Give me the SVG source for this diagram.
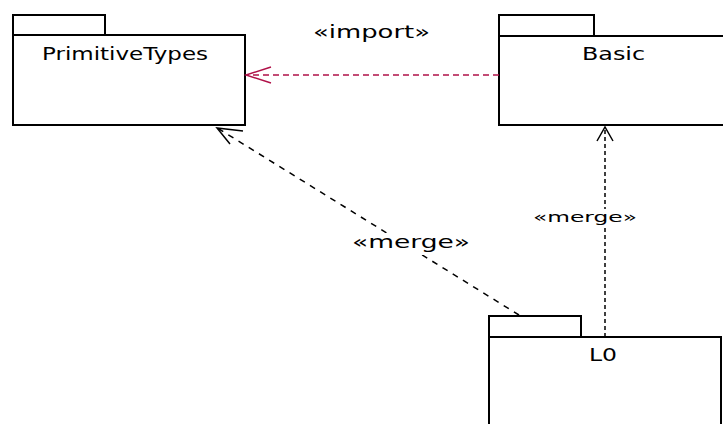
<svg xmlns="http://www.w3.org/2000/svg" width="723" height="424" viewBox="0 0 723 424">
<style>
.pkg{fill:#fff;stroke:#000;stroke-width:2}
.name{font-family:"DejaVu Sans","Liberation Sans",sans-serif;font-size:18px;fill:#000}
.lbl{font-family:"DejaVu Sans","Liberation Sans",sans-serif;font-size:18px;fill:#000}
.imp{stroke:#b01048;stroke-width:1.5;fill:none}
.mrg{stroke:#000;stroke-width:1.5;fill:none}
.bg{fill:#fff}
</style>
<rect width="723" height="424" fill="#fff"/>
<g id="PrimitiveTypes">
<rect class="pkg" x="13" y="15" width="92" height="20"/>
<rect class="pkg" x="13" y="35" width="232" height="90"/>
<text class="name" x="42" y="60" textLength="166" lengthAdjust="spacingAndGlyphs">PrimitiveTypes</text>
</g>
<g id="Basic">
<rect class="pkg" x="499" y="15" width="95" height="21"/>
<rect class="pkg" x="499" y="36" width="230" height="89"/>
<text class="name" x="582" y="60" textLength="63" lengthAdjust="spacingAndGlyphs">Basic</text>
</g>
<g id="L0">
<rect class="pkg" x="489" y="316" width="92" height="21"/>
<rect class="pkg" x="489" y="337" width="232" height="100"/>
<text class="name" x="589" y="361" textLength="28" lengthAdjust="spacingAndGlyphs">L0</text>
</g>
<g id="connectors">
<path class="imp" d="M499,75 H247" stroke-dasharray="6,4"/>
<path class="imp" d="M271,67 L246,75 L271,83"/>
<text class="lbl" x="313" y="38" textLength="117" lengthAdjust="spacingAndGlyphs">«import»</text>
<path class="mrg" d="M519,315 L219,129" stroke-dasharray="6,6"/>
<path class="mrg" d="M230,144 L217,128 L243,131" stroke-width="2"/>
<rect class="bg" x="352" y="233" width="118" height="22"/>
<text class="lbl" x="352" y="248" textLength="118" lengthAdjust="spacingAndGlyphs">«merge»</text>
<path class="mrg" d="M605,337 V128" stroke-width="2" stroke-dasharray="4,3"/>
<path class="mrg" d="M597,141 L605,127 L613,141" stroke-width="2"/>
<rect class="bg" x="533" y="209" width="104" height="16"/>
<text class="lbl" x="533" y="222" style="font-size:14px" textLength="104" lengthAdjust="spacingAndGlyphs">«merge»</text>
</g>
</svg>
